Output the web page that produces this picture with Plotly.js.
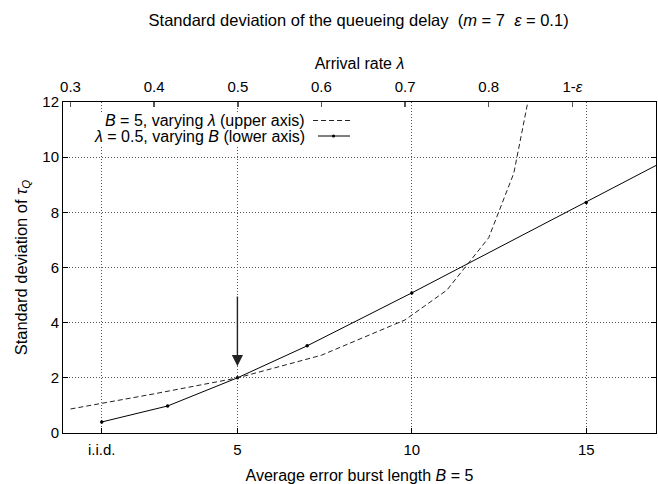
<!DOCTYPE html>
<html>
<head>
<meta charset="utf-8">
<script src="https://cdn.plot.ly/plotly-3.0.1.min.js"></script>
<style>html,body{margin:0;padding:0;background:#fff;}#chart{width:658px;height:484px;}</style>
</head>
<body>
<div id="chart"></div>
<script>
// Lower axis: average error burst length B (i.i.d. = 1/(1-eps))
var burstB = [1.111, 3, 5, 7, 10, 15, 20];
var sdVaryB = [0.40, 0.98, 2.0, 3.16, 5.08, 8.36, 11.68];
// Upper axis: arrival rate lambda
var lambdaVals = [0.3, 0.4, 0.5, 0.6, 0.7, 0.75, 0.8, 0.83, 0.85];
var sdVaryLambda = [0.87, 1.42, 2.0, 2.82, 4.1, 5.18, 7.08, 9.42, 12.5];
// Tick labels
var bTickVals = [1.111, 5, 10, 15];
var bTickText = ['i.i.d.', '5', '10', '15'];
var lTickVals = [0.3, 0.4, 0.5, 0.6, 0.7, 0.8, 0.9];
var lTickText = ['0.3', '0.4', '0.5', '0.6', '0.7', '0.8', '1-<i>ε</i>'];
var legendNames = ['<i>B</i> = 5, varying <i>λ</i> (upper axis)', '<i>λ</i> = 0.5, varying <i>B</i> (lower axis)'];

var FONT = 'Liberation Sans, Arial, Helvetica, sans-serif';

var traces = [
  {x: lambdaVals, y: sdVaryLambda, xaxis: 'x2', yaxis: 'y', mode: 'lines',
   line: {color: '#222', width: 1, dash: '5px,3px'}, name: legendNames[0], showlegend: false},
  {x: burstB, y: sdVaryB, xaxis: 'x', yaxis: 'y', mode: 'lines+markers',
   line: {color: '#000', width: 1}, marker: {color: '#000', size: 3.5}, name: legendNames[1], showlegend: false}
];

// pixel helpers for legend placement (plot area 63..656 x, 102..433 y)
function px(x){ return (x - 63) / 593; }
function py(y){ return (433 - y) / 331; }

var layout = {
  width: 658, height: 484,
  margin: {l: 63, r: 2, t: 102, b: 51},
  paper_bgcolor: '#fff', plot_bgcolor: '#fff',
  font: {family: FONT, size: 16, color: '#000'},
  title: {text: 'Standard deviation of the queueing delay \u00a0(<i>m</i> = 7 \u00a0<i>ε</i> = 0.1)',
          font: {size: 16.5, family: FONT, color: '#000'}, x: 0.545, xanchor: 'center', y: 0.958, yanchor: 'middle'},
  xaxis: {range: [0, 17], tickvals: bTickVals, ticktext: bTickText,
          ticks: 'inside', ticklen: 5, tickcolor: '#000', showline: true, linecolor: '#000', linewidth: 1,
          mirror: true, showgrid: true, gridcolor: '#555', griddash: '1px,2px', gridwidth: 1, zeroline: false,
          tickfont: {size: 15}, ticklabelstandoff: 3,
          title: {text: 'Average error burst length <i>B</i> = 5', font: {size: 16}, standoff: 13}},
  xaxis2: {overlaying: 'x', side: 'top', range: [0.291, 1.0], tickvals: lTickVals, ticktext: lTickText,
           ticks: 'inside', ticklen: 5, tickcolor: '#555', tickwidth: 1.5, showline: false, showgrid: false, zeroline: false,
           tickfont: {size: 15}, ticklabelstandoff: 6,
           title: {text: 'Arrival rate <i>λ</i>', font: {size: 16}, standoff: 4}},
  yaxis: {range: [0, 12], dtick: 2, ticks: 'inside', ticklen: 5, tickcolor: '#000',
          showline: true, linecolor: '#000', linewidth: 1, mirror: 'ticks',
          showgrid: true, gridcolor: '#555', griddash: '1px,2px', gridwidth: 1, zeroline: false,
          tickfont: {size: 15},
          title: {text: 'Standard deviation of <i>τ</i><sub><i>Q</i></sub>', font: {size: 16.5}, standoff: 10}},
  shapes: [
    {type: 'rect', xref: 'paper', yref: 'paper', x0: px(78), x1: px(358), y0: py(147), y1: py(112),
     fillcolor: '#fff', line: {width: 0}, layer: 'above'},
    {type: 'line', xref: 'paper', yref: 'paper', x0: px(313), x1: px(350), y0: py(120.5), y1: py(120.5),
     line: {color: '#222', width: 1, dash: '5px,3px'}, layer: 'above'},
    {type: 'line', xref: 'paper', yref: 'paper', x0: px(318), x1: px(350), y0: py(136), y1: py(136),
     line: {color: '#000', width: 1}, layer: 'above'},
    {type: 'circle', xref: 'paper', yref: 'paper', xsizemode: 'pixel', ysizemode: 'pixel',
     xanchor: px(333.5), yanchor: py(136), x0: -1.6, x1: 1.6, y0: -1.6, y1: 1.6,
     fillcolor: '#000', line: {width: 0}, layer: 'above'}
  ],
  annotations: [
    {xref: 'paper', yref: 'paper', x: px(307), y: py(120.5), xanchor: 'right', yanchor: 'middle',
     text: legendNames[0], showarrow: false, font: {size: 16}},
    {xref: 'paper', yref: 'paper', x: px(307), y: py(136), xanchor: 'right', yanchor: 'middle',
     text: legendNames[1], showarrow: false, font: {size: 16}},
    {xref: 'x', yref: 'y', x: 5, y: 2.42, axref: 'x', ayref: 'y', ax: 5, ay: 5.0,
     showarrow: true, arrowhead: 2, arrowsize: 1.6, arrowwidth: 1.4, arrowcolor: '#222', text: ''}
  ]
};

Plotly.newPlot('chart', traces, layout, {staticPlot: true, displayModeBar: false});
</script>
</body>
</html>
